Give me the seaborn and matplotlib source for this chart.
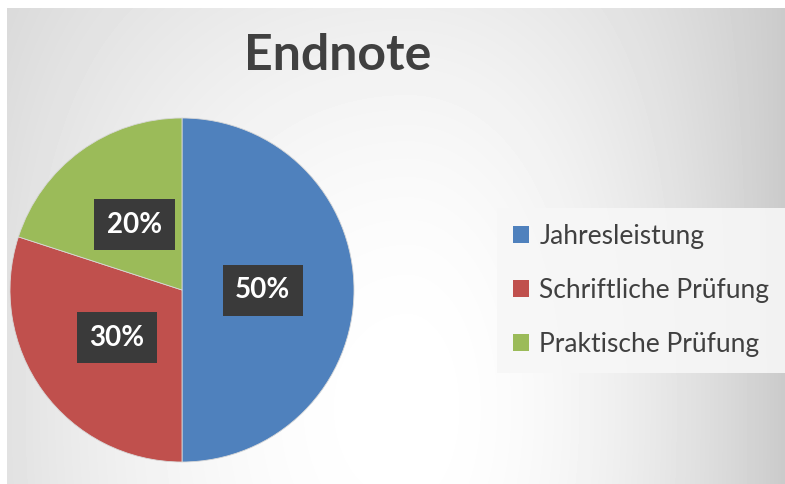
import numpy as np
import matplotlib
matplotlib.use("Agg")
import matplotlib.pyplot as plt
import seaborn as sns
from matplotlib.patches import Patch

# Daten
kategorien = ["Jahresleistung", "Schriftliche Prüfung", "Praktische Prüfung"]
anteile = [50, 30, 20]
farben = ["#4F81BD", "#C0504D", "#9BBB59"]
titel = "Endnote"

sns.set_theme(style="white")
plt.rcParams['font.family'] = ['Lato', 'DejaVu Sans']

fig = plt.figure(figsize=(7.85, 4.84), dpi=100)
fig.patch.set_facecolor("white")

# Hintergrund mit radialem Verlauf
bg = fig.add_axes([7 / 785, 0, 778 / 785, 476 / 484])
W, H = 778, 476
xx, yy = np.meshgrid(np.arange(W), np.arange(H))
cx, cy = 400, 400
dx = xx - cx
dy = yy - cy
fx = np.where(dx < 0, (dx / 390) ** 2 * 0.11, (dx / 380) ** 2 * 0.21)
fy = (dy / 400) ** 2 * 0.07
grad = 1 - (fx + fy * (1 - np.clip(fx / 0.2, 0, 1)))
bg.imshow(grad, cmap="gray", vmin=0, vmax=1, aspect="auto", extent=[0, W, H, 0])
bg.set_axis_off()

# Kreisdiagramm
ax = fig.add_axes([10 / 785, 22 / 484, 344 / 785, 344 / 484])
wedges, texts, autotexts = ax.pie(
    anteile,
    colors=farben,
    startangle=90,
    counterclock=False,
    autopct="%d%%",
    pctdistance=0.47,
    wedgeprops=dict(linewidth=0.6, edgecolor="#d8d8d8"),
    textprops=dict(color="white", fontsize=20, fontweight="bold"),
)
for t in autotexts:
    t.set_bbox(dict(boxstyle="square,pad=0.45", facecolor="#3a3a3a", edgecolor="none"))
ax.set_xlim(-1, 1)
ax.set_ylim(-1, 1)
ax.set_aspect("equal")

fig.text(338 / 785, 1 - 55 / 484, titel, ha="center", va="center",
         fontsize=36, fontweight="bold", color="#404040")

handles = [Patch(facecolor=c, edgecolor="none") for c in farben]
leg = fig.legend(handles, kategorien, loc="upper left",
                 bbox_to_anchor=(497 / 785, 1 - 208 / 484),
                 frameon=True, fontsize=19, labelcolor="#404040",
                 handlelength=0.6, handleheight=0.6, handletextpad=0.4,
                 labelspacing=1.1, borderpad=0.6, borderaxespad=0,
                 fancybox=False)
leg.get_frame().set_facecolor("#f7f7f7")
leg.get_frame().set_edgecolor("none")
leg.get_frame().set_alpha(0.9)

fig.savefig("out.png", dpi=100)
